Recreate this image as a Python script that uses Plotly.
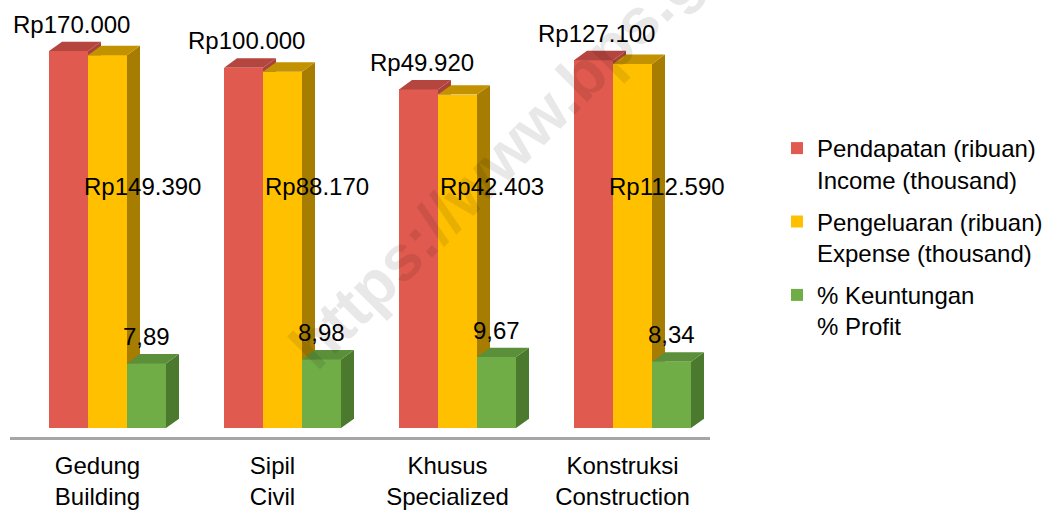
import numpy as np
import plotly.graph_objects as go

# ---- data ----
categories = ["Gedung<br>Building", "Sipil<br>Civil", "Khusus<br>Specialized", "Konstruksi<br>Construction"]
series_names = [
    "Pendapatan (ribuan)<br>Income (thousand)",
    "Pengeluaran (ribuan)<br>Expense (thousand)",
    "% Keuntungan<br>% Profit",
]
income = [170000, 100000, 49920, 127100]
expense = [149390, 88170, 42403, 112590]
profit = [7.89, 8.98, 9.67, 8.34]

def rp(v):
    return "Rp" + f"{v:,}".replace(",", ".")

def pct(v):
    return f"{v:.2f}".replace(".", ",")

income_labels = [rp(v) for v in income]
expense_labels = [rp(v) for v in expense]
profit_labels = [pct(v) for v in profit]

# ---- style / geometry ----
FONT = "Arial, Liberation Sans, sans-serif"
PX_PER_CAT = 175.0
PX_PER_DEC = 72.9
W = 39 / PX_PER_CAT            # bar width in category units
DX = 13 / PX_PER_CAT           # depth (x)
K = 10 ** (9.5 / PX_PER_DEC)   # depth (y), multiplicative on log axis
offsets = [-0.2771, -0.0543, 0.1686]
front = ["#E15A4F", "#FFC000", "#70AD47"]
side = ["#A8423B", "#A67D00", "#4B7A2E"]
top = ["#B5463F", "#C29200", "#5B8F39"]

idx = np.arange(len(categories))
all_vals = [income, expense, profit]
n_series = len(all_vals)

fig = go.Figure()

# front faces (bars)
for s, vals in enumerate(all_vals):
    fig.add_trace(go.Bar(
        x=idx, y=np.array(vals, dtype=float) - 1, base=1,
        offset=offsets[s], width=W, name=series_names[s],
        legendgroup=f"g{s}",
        marker=dict(color=front[s], line=dict(width=0)),
        hoverinfo="skip",
    ))

# 3D side and top faces; the part of a side face hidden behind the next bar's
# front face is left out (scatter layers are drawn above bar layers)
for s, vals in enumerate(all_vals):
    sx, sy, tx, ty = [], [], [], []
    for j, (i, v) in enumerate(zip(idx, vals)):
        L = i + offsets[s]
        R = L + W
        low = all_vals[s + 1][j] if s + 1 < n_series else 1
        if v > low:
            sx += [R, R, R + DX, R + DX, R, None]
            sy += [low, v, v * K, max(low, K), low, None]
        tx += [L, R, R + DX, L + DX, L, None]
        ty += [v, v, v * K, v * K, v, None]
    fig.add_trace(go.Scatter(x=sx, y=sy, mode="lines", fill="toself", fillcolor=side[s],
                             line=dict(width=0, color=side[s]), hoverinfo="skip", showlegend=False))
    fig.add_trace(go.Scatter(x=tx, y=ty, mode="lines", fill="toself", fillcolor=top[s],
                             line=dict(width=0, color=top[s]), hoverinfo="skip", showlegend=False))

annotations = []
# labels above income and profit bars
for s, labels, xs in ((0, income_labels, 0.018), (2, profit_labels, 0.0)):
    for i, v, t in zip(idx, all_vals[s], labels):
        annotations.append(dict(
            x=i + offsets[s] + W / 2 + xs, y=np.log10(v * K), xref="x", yref="y",
            text=t, showarrow=False, xanchor="center", yanchor="bottom", yshift=2,
            font=dict(family=FONT, size=24, color="#000000")))
# expense labels (mid-height, centred on the back-right edge of the bar)
for i, t in zip(idx, expense_labels):
    annotations.append(dict(
        x=i + offsets[1] + W + DX + 0.012, y=1 - 189 / 442, xref="x", yref="paper",
        text=t, showarrow=False, xanchor="center", yanchor="middle",
        font=dict(family=FONT, size=24, color="#000000")))
# watermark
annotations.append(dict(
    x=(535 - 10) / 700, y=1 - 124 / 442, xref="paper", yref="paper",
    text="<b>https://www.bps.go.id</b>", showarrow=False, textangle=-45,
    xanchor="center", yanchor="middle",
    font=dict(family=FONT, size=64, color="rgba(0,0,0,0.09)")))

fig.update_layout(
    width=1058, height=510,
    margin=dict(l=10, r=348, t=0, b=68),
    paper_bgcolor="white", plot_bgcolor="white",
    barmode="overlay", bargap=0,
    font=dict(family=FONT, size=24, color="#000000"),
    showlegend=True,
    legend=dict(
        x=777 / 1058, xref="container", xanchor="left",
        y=1 - 126 / 510, yref="container", yanchor="top",
        valign="top", bgcolor="rgba(0,0,0,0)",
        font=dict(family=FONT, size=24, color="#000000"),
        traceorder="grouped", tracegroupgap=8,
    ),
    xaxis=dict(
        range=[-0.5, 3.5], tickvals=idx, ticktext=categories,
        showgrid=False, zeroline=False, showline=True,
        linecolor="#A6A6A6", linewidth=3, ticks="",
        ticklabelstandoff=5,
        tickfont=dict(family=FONT, size=24, color="#000000"),
    ),
    yaxis=dict(type="log", range=[-9 / PX_PER_DEC, 433 / PX_PER_DEC], visible=False),
    annotations=annotations,
)

fig.write_html("out.html", config={"displayModeBar": False},
               post_script="document.body.style.margin='0px';")
